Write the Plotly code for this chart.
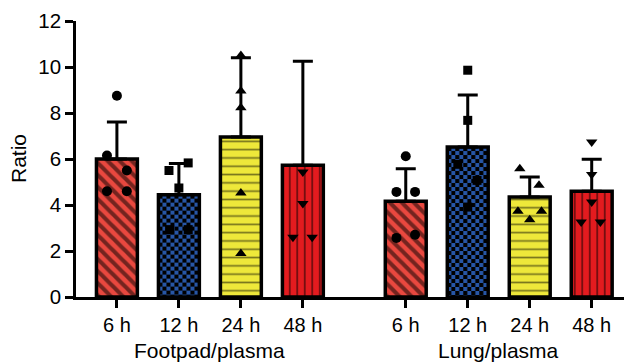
import base64
import plotly.graph_objects as go

# ---------------- data ----------------
times = ["6 h", "12 h", "24 h", "48 h"]
groups = ["Footpad/plasma", "Lung/plasma"]

footpad_mean = [6.0, 4.45, 6.96, 5.73]
footpad_sd = [1.61, 1.35, 3.44, 4.52]
lung_mean = [4.16, 6.52, 4.35, 4.6]
lung_sd = [1.42, 2.26, 0.87, 1.39]

footpad_points = [
    [8.75, 6.15, 5.5, 4.6, 4.6],
    [5.83, 5.5, 4.74, 2.93, 2.93],
    [10.5, 8.96, 8.23, 4.52, 1.89],
    [13.96, 5.43, 4.06, 2.6, 2.6],
]
lung_points = [
    [6.12, 4.57, 4.57, 2.57, 2.71],
    [9.86, 7.68, 5.77, 5.07, 3.91],
    [5.58, 4.86, 3.73, 3.73, 3.36],
    [6.74, 5.33, 4.13, 3.26, 3.26],
]

y_ticks = [0, 2, 4, 6, 8, 10, 12]

# ---------------- layout / style ----------------
# page body has an 8px default margin, so the figure is drawn 8px in from the corner
W, H = 624, 354
ML, MR, MT, MB = 68, 0, 13, 65
group_start = [0.0, 4.66]
x_range = [-0.66, 8.31]
y_range = [0, 12]
bar_w = 0.66

footpad_jitter = [[0, -0.16, 0.16, -0.16, 0.16],
                  [0.15, -0.16, 0, -0.15, 0.15],
                  [0, 0, 0, 0, 0],
                  [0, 0, 0, -0.16, 0.15]]
lung_jitter = [[0, -0.15, 0.15, -0.15, 0.15],
               [0, 0, -0.16, 0.15, 0],
               [-0.16, 0.15, -0.19, 0.19, 0],
               [0, 0, 0, -0.17, 0.14]]

bar_colors = ["#E9483F", "#2756A6", "#EEE83A", "#E31B1F"]
patterns = [
    dict(shape="\\", size=8.5, solidity=0.48, fgcolor="black", fillmode="overlay"),
    None,
    dict(shape="-", size=8.3, solidity=0.2, fgcolor="black", fillmode="overlay"),
    dict(shape="|", size=7.5, solidity=0.24, fgcolor="black", fillmode="overlay"),
]
symbols = ["circle", "square", "triangle-up", "triangle-down"]
msizes = [10, 9, 10, 10]
FONT = "Liberation Sans, Arial, Helvetica, sans-serif"

fig = go.Figure()
images = []
px_x = (W - ML - MR) / (x_range[1] - x_range[0])
px_y = (H - MT - MB) / (y_range[1] - y_range[0])

for i, t in enumerate(times):
    xs = [group_start[0] + i, group_start[1] + i]
    ys = [footpad_mean[i], lung_mean[i]]
    sds = [footpad_sd[i], lung_sd[i]]
    marker = dict(color=bar_colors[i], line=dict(color="black", width=3.5))
    if patterns[i] is not None:
        marker["pattern"] = patterns[i]
    else:
        marker["color"] = "rgba(0,0,0,0)"
        # checkerboard fill drawn as an image behind a transparent bar
        for xc, yv in zip(xs, ys):
            pw = bar_w * px_x
            ph = yv * px_y
            svg = (
                f'<svg xmlns="http://www.w3.org/2000/svg" width="{pw:.1f}" height="{ph:.1f}" '
                f'viewBox="0 0 {pw:.1f} {ph:.1f}" preserveAspectRatio="none">'
                '<defs><pattern id="c" width="8" height="8" patternUnits="userSpaceOnUse">'
                f'<rect width="8" height="8" fill="{bar_colors[i]}"/>'
                '<rect width="4" height="4" fill="#000"/>'
                '<rect x="4" y="4" width="4" height="4" fill="#000"/>'
                '</pattern></defs>'
                '<rect width="100%" height="100%" fill="url(#c)"/></svg>'
            )
            src = "data:image/svg+xml;base64," + base64.b64encode(svg.encode()).decode()
            images.append(dict(source=src, xref="x", yref="y", x=xc - bar_w / 2, y=yv,
                               sizex=bar_w, sizey=yv, xanchor="left", yanchor="top",
                               sizing="stretch", layer="below"))
    fig.add_trace(go.Bar(
        x=xs, y=ys, width=bar_w, marker=marker, showlegend=False,
        error_y=dict(type="data", symmetric=False, array=sds, arrayminus=[0, 0],
                     color="black", thickness=3, width=10),
    ))

for i, t in enumerate(times):
    px, py = [], []
    for g, (pts, jit) in enumerate(((footpad_points, footpad_jitter), (lung_points, lung_jitter))):
        for v, j in zip(pts[i], jit[i]):
            px.append(group_start[g] + i + j)
            py.append(v)
    fig.add_trace(go.Scatter(
        x=px, y=py, mode="markers", showlegend=False,
        marker=dict(symbol=symbols[i], size=msizes[i], color="black", line=dict(width=0)),
    ))

tickvals = [group_start[g] + i for g in range(2) for i in range(len(times))]
ticktext = [t for g in range(2) for t in times]

fig.update_layout(
    width=W, height=H,
    margin=dict(l=ML, r=MR, t=MT, b=MB, pad=0),
    paper_bgcolor="white", plot_bgcolor="rgba(0,0,0,0)",
    barmode="overlay",
    font=dict(family=FONT, size=20, color="black"),
    images=images,
    xaxis=dict(range=x_range, tickvals=tickvals, ticktext=ticktext, showgrid=False,
               zeroline=False, showline=True, linecolor="black", linewidth=2.5,
               ticks="outside", ticklen=8, tickwidth=2.5, tickcolor="black",
               tickfont=dict(size=20)),
    yaxis=dict(range=y_range, tickvals=y_ticks, showgrid=False, zeroline=False,
               showline=True, linecolor="black", linewidth=2.5,
               ticks="outside", ticklen=8, tickwidth=2.5, tickcolor="black",
               tickfont=dict(size=20.5)),
    annotations=[
        dict(text=groups[0], xref="x", yref="paper", x=group_start[0] + 1.5, y=0,
             yanchor="middle", yshift=-53, showarrow=False, font=dict(size=21)),
        dict(text=groups[1], xref="x", yref="paper", x=group_start[1] + 1.5, y=0,
             yanchor="middle", yshift=-53, showarrow=False, font=dict(size=21)),
        dict(text="Ratio", xref="paper", yref="paper", x=0, y=0.5, xshift=-58,
             xanchor="center", yanchor="middle", textangle=-90, showarrow=False,
             font=dict(size=21)),
    ],
)

fig.write_html("out.html")
